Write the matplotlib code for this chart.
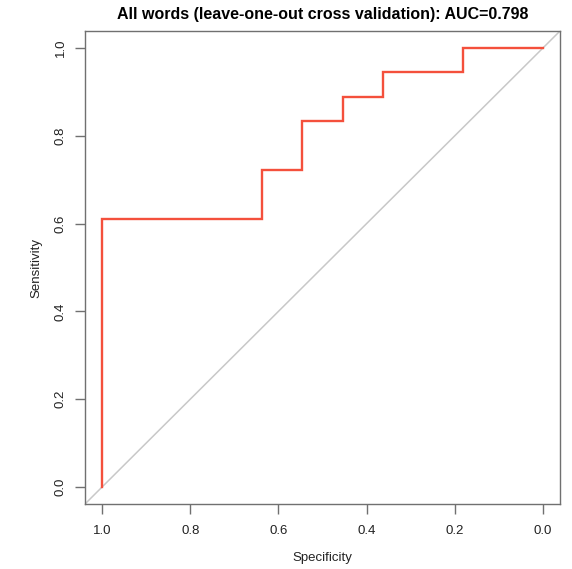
import matplotlib
matplotlib.use("Agg")
import matplotlib.pyplot as plt

plt.rcParams['font.family'] = ['Liberation Sans', 'DejaVu Sans']

specificity = [1.0, 1.0, 7/11, 7/11, 6/11, 6/11, 5/11, 5/11, 4/11, 4/11, 2/11, 2/11, 0.0]
sensitivity = [0.0, 11/18, 11/18, 13/18, 13/18, 15/18, 15/18, 16/18, 16/18, 17/18, 17/18, 1.0, 1.0]
ticks = [1.0, 0.8, 0.6, 0.4, 0.2, 0.0]
tick_labels = ["1.0", "0.8", "0.6", "0.4", "0.2", "0.0"]
title = "All words (leave-one-out cross validation): AUC=0.798"

W, H = 572, 569
fig = plt.figure(figsize=(W/100, H/100), dpi=100)
ax = fig.add_axes([85/W, 1-504/H, (560-85)/W, (504-31)/H])
ax.set_xlim(1 + 0.0386, -0.0386)
ax.set_ylim(-0.0386, 1.0386)

ax.plot([1.1, -0.1], [-0.1, 1.1], color="#c8c8c8", lw=1.1, zorder=1)
ax.plot(specificity, sensitivity, color="#f4503c", lw=1.7, zorder=2, solid_joinstyle='miter')

ax.set_xticks(ticks)
ax.set_xticklabels(tick_labels)
ax.set_yticks(ticks)
ax.set_yticklabels(tick_labels, rotation=90, va='center')
for s in ax.spines.values():
    s.set_color("#707070")
    s.set_linewidth(1.0)
ax.tick_params(direction='out', length=7, width=1.0, color="#707070",
               labelsize=9.5, labelcolor="#222222", pad=8)
ax.tick_params(axis='y', pad=6)
ax.set_xlabel("Specificity", fontsize=9.5, labelpad=11, color="#222222")
ax.set_ylabel("Sensitivity", fontsize=9.5, labelpad=9, color="#222222")
ax.set_title(title, fontsize=11.5, fontweight='bold', pad=9)

fig.savefig("out.png", dpi=100, facecolor="white")
